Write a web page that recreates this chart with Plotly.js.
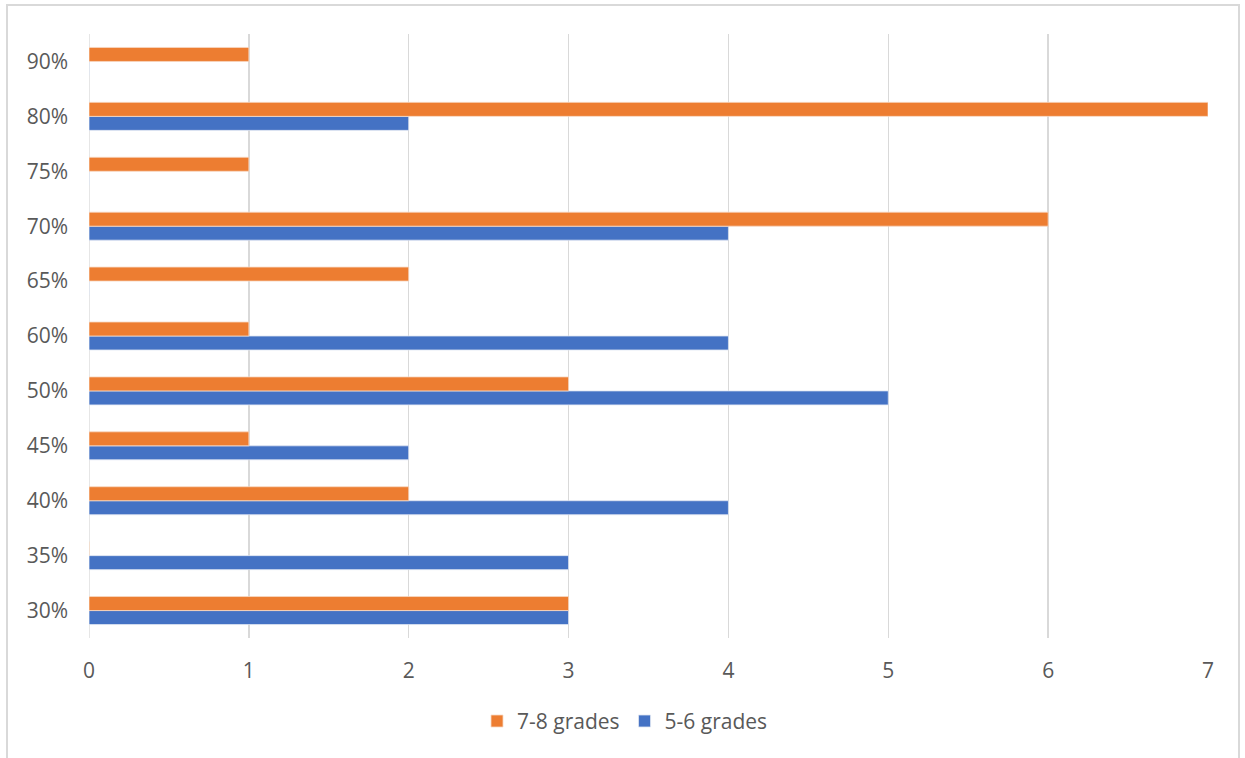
<!DOCTYPE html>
<html>
<head>
<meta charset="utf-8">
<script src="https://cdn.plot.ly/plotly-3.0.1.min.js"></script>
<style>
html,body{margin:0;padding:0;background:#fff;overflow:hidden;}
#wrap{position:relative;width:1245px;height:758px;}
#chart{position:absolute;left:0;top:0;width:1245px;height:758px;}
#frame{position:absolute;left:6px;top:4px;width:1234px;height:770px;border:2px solid #d9d9d9;pointer-events:none;box-sizing:border-box;}
</style>
</head>
<body>
<div id="wrap"><div id="chart"></div><div id="frame"></div></div>
<script>
const categories = ["30%","35%","40%","45%","50%","60%","65%","70%","75%","80%","90%"];
const grades78 = [3, 0, 2, 1, 3, 1, 2, 6, 1, 7, 1];
const grades56 = [3, 3, 4, 2, 5, 4, 0, 4, 0, 2, 0];
const xTicks = [0,1,2,3,4,5,6,7];

const font = {family: "Open Sans, Noto Sans, sans-serif", size: 21, color: "#595959"};

const traces = [
  {type: "bar", orientation: "h", name: "5-6 grades", y: categories, x: grades56,
   marker: {color: "#4472C4", line: {color: "#dfe6f3", width: 0.8}}, hoverinfo: "x+y+name"},
  {type: "bar", orientation: "h", name: "7-8 grades", y: categories, x: grades78,
   marker: {color: "#ED7D31", line: {color: "#f8d9c4", width: 0.8}}, hoverinfo: "x+y+name"}
];

const layout = {
  width: 1245, height: 758,
  margin: {l: 89, r: 37, t: 34, b: 120, pad: 0},
  paper_bgcolor: "#ffffff", plot_bgcolor: "#ffffff",
  barmode: "group", bargap: 0.49, bargroupgap: 0,
  font: font,
  xaxis: {range: [0, 7], tickvals: xTicks, ticktext: xTicks.map(String),
          showgrid: true, gridcolor: "#d9d9d9", gridwidth: 1.3,
          zeroline: false, showline: false, ticks: "", ticklabelstandoff: 18,
          tickfont: font, fixedrange: true},
  yaxis: {type: "category", categoryorder: "array", categoryarray: categories,
          showgrid: false, zeroline: false, showline: false, ticks: "",
          ticklabelstandoff: 20, tickfont: font, fixedrange: true},
  showlegend: true,
  legend: {orientation: "h", traceorder: "reversed", x: 0.479, xanchor: "center",
           y: -0.138, yanchor: "middle", font: font, itemwidth: 30},
  shapes: [{type: "line", xref: "x", yref: "paper", x0: 0, x1: 0, y0: 0, y1: 1,
            line: {color: "#d9d9d9", width: 1.3}, layer: "below"}]
};

Plotly.newPlot("chart", traces, layout, {displayModeBar: false, staticPlot: true});
</script>
</body>
</html>
